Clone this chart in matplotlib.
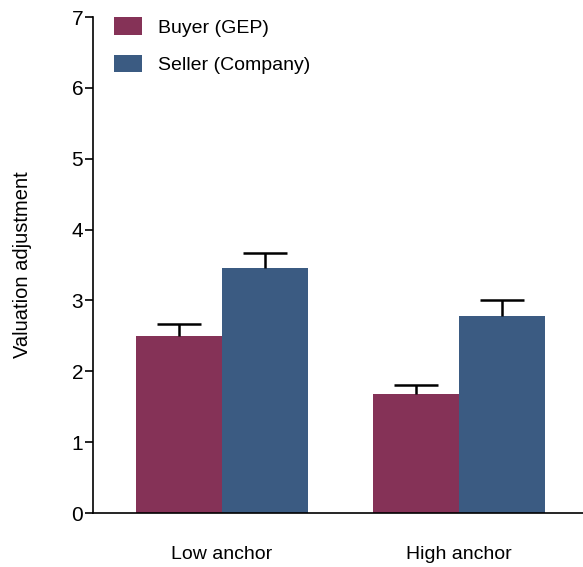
import numpy as np
import matplotlib.pyplot as plt

plt.rcParams['font.family'] = ['Liberation Sans', 'DejaVu Sans']

groups = ["Low anchor", "High anchor"]
buyer_mean = [2.50, 1.68]
buyer_err = [0.17, 0.12]
seller_mean = [3.46, 2.78]
seller_err = [0.21, 0.22]

buyer_color = "#853257"
seller_color = "#3b5b82"

fig = plt.figure(figsize=(5.83, 5.67), dpi=100)
ax = fig.add_axes([0.1595, 0.0952, 0.8405, 0.8748])

x = np.arange(len(groups))
w = 0.363
err_kw = dict(ecolor="black", elinewidth=1.8, capsize=16, capthick=1.8)
b1 = ax.bar(x - w / 2, buyer_mean, w, color=buyer_color, label="Buyer (GEP)",
            yerr=[np.zeros(2), buyer_err], error_kw=err_kw)
b2 = ax.bar(x + w / 2, seller_mean, w, color=seller_color, label="Seller (Company)",
            yerr=[np.zeros(2), seller_err], error_kw=err_kw)
# hide the lower caps, only upper error shown
for b in (b1, b2):
    b.errorbar.lines[1][0].set_visible(False)

ax.set_xlim(-0.544, 1.523)
ax.set_ylim(0, 7)
ax.set_yticks(range(8))
ax.set_xticks(x)
ax.set_xticklabels(groups, fontsize=14)
ax.tick_params(axis='x', length=0, pad=24)
ax.tick_params(axis='y', labelsize=15, length=6, width=1.2, direction='out', pad=1)
ax.set_ylabel("Valuation adjustment", fontsize=14.5)
ax.yaxis.set_label_coords(-0.125, 0.5)

for s in ["top", "right"]:
    ax.spines[s].set_visible(False)
for s in ["left", "bottom"]:
    ax.spines[s].set_linewidth(1.2)

ax.legend(loc="upper left", bbox_to_anchor=(0.008, 1.035), frameon=False,
          fontsize=14, handlelength=1.4, handleheight=1.0, labelspacing=0.95,
          handletextpad=0.85)

plt.savefig("out.png", dpi=100)
